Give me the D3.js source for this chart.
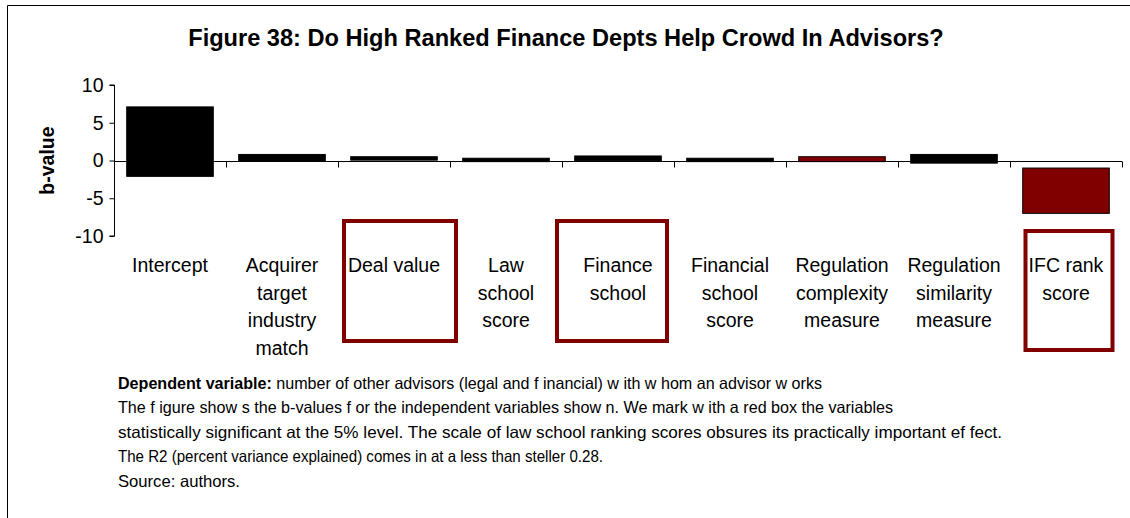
<!DOCTYPE html>
<html>
<head>
<meta charset="utf-8">
<script src="https://cdn.jsdelivr.net/npm/d3@7"></script>
<style>
  html, body { margin: 0; padding: 0; background: #fff; }
  svg { display: block; font-family: "Liberation Sans", Arial, sans-serif; }
</style>
</head>
<body>
<svg id="chart" width="1130" height="518"></svg>
<script>
// Regression coefficients: each bar spans a low..high range of b-values
const categories = [
  "Intercept",
  "Acquirer target industry match",
  "Deal value",
  "Law school score",
  "Finance school",
  "Financial school score",
  "Regulation complexity measure",
  "Regulation similarity measure",
  "IFC rank score"
];
const labelLines = [
  ["Intercept"],
  ["Acquirer", "target", "industry", "match"],
  ["Deal value"],
  ["Law", "school", "score"],
  ["Finance", "school"],
  ["Financial", "school", "score"],
  ["Regulation", "complexity", "measure"],
  ["Regulation", "similarity", "measure"],
  ["IFC rank", "score"]
];
const lowValues  = [-2.1, 0.0, 0.05, -0.15, -0.05, -0.15, -0.15, -0.35, -7.0];
const highValues = [ 7.1, 0.8, 0.5,   0.3,   0.6,   0.3,   0.5,   0.8,  -1.0];
const highlighted = ["Regulation complexity measure", "IFC rank score"];
const significant = ["Deal value", "Finance school", "IFC rank score"];
const yTicks = [10, 5, 0, -5, -10];

const titleText = "Figure 38: Do High Ranked Finance Depts Help Crowd In Advisors?";
const notes = [
  [{t: "Dependent variable:", b: true}, {t: " number of other advisors (legal and f inancial) w ith w hom an advisor w orks"}],
  [{t: "The f igure show s the b-values f or the independent variables show n. We mark w ith a red box the variables"}],
  [{t: "statistically significant at the 5% level. The scale of law  school ranking scores obsures its practically important ef fect."}],
  [{t: "The R2 (percent variance explained) comes in at a less than steller 0.28."}],
  [{t: "Source: authors."}]
];

const DARK_RED = "#800000";
const svg = d3.select("#chart");

// outer frame: top and left edges
svg.append("line").attr("x1", 7.5).attr("x2", 1130).attr("y1", 5.5).attr("y2", 5.5)
  .attr("stroke", "#000").attr("stroke-width", 1);
svg.append("line").attr("x1", 7.5).attr("x2", 7.5).attr("y1", 5.5).attr("y2", 518)
  .attr("stroke", "#000").attr("stroke-width", 1);

svg.append("text")
  .attr("x", 566).attr("y", 46)
  .attr("text-anchor", "middle")
  .attr("font-weight", "bold")
  .attr("font-size", 23.6)
  .text(titleText);

const x = d3.scaleBand().domain(categories).range([114, 1122])
  .paddingInner(0.227).paddingOuter(0.1135);
const y = d3.scaleLinear().domain([-10, 10]).range([236, 85]);

// value axis
const yAxis = svg.append("g").attr("transform", "translate(114.5,0)")
  .call(d3.axisLeft(y).tickValues(yTicks).tickSize(5).tickPadding(6).tickFormat(d => String(d)));
yAxis.selectAll("text").attr("font-size", 19.5).attr("fill", "#000").attr("font-family", "Liberation Sans, Arial, sans-serif");
yAxis.selectAll("line, path").attr("stroke", "#000");
yAxis.select(".domain").attr("d", `M-5,${y(10)}H0V${y(-10)}H-5`);

svg.append("text")
  .attr("transform", `translate(54,${y(0)}) rotate(-90)`)
  .attr("text-anchor", "middle")
  .attr("font-weight", "bold")
  .attr("font-size", 19.5)
  .text("b-value");

// category axis along zero, with ticks between bands
const y0 = Math.round(y(0)) + 0.5;
svg.append("line").attr("x1", 114).attr("x2", 1122).attr("y1", y0).attr("y2", y0)
  .attr("stroke", "#000");
const boundaries = categories.map((c, i) => x(c) - x.step() * x.paddingInner() / 2).concat([1122]);
svg.append("g").selectAll("line").data(boundaries.slice(1)).join("line")
  .attr("x1", d => Math.round(d) + 0.5).attr("x2", d => Math.round(d) + 0.5)
  .attr("y1", y0).attr("y2", y0 + 6).attr("stroke", "#000");

// bars
svg.append("g").selectAll("rect").data(categories).join("rect")
  .attr("x", d => x(d))
  .attr("width", x.bandwidth())
  .attr("y", (d, i) => y(highValues[i]))
  .attr("height", (d, i) => Math.max(1, y(lowValues[i]) - y(highValues[i])))
  .attr("fill", d => highlighted.includes(d) ? DARK_RED : "#000")
  .attr("stroke", "#000")
  .attr("stroke-width", 1);

// category labels
const lbl = svg.append("g").selectAll("text").data(categories).join("text")
  .attr("text-anchor", "middle")
  .attr("font-size", 19.5)
  .attr("fill", "#000");
lbl.each(function(d, i) {
  const cx = x(d) + x.bandwidth() / 2;
  d3.select(this).selectAll("tspan").data(labelLines[i]).join("tspan")
    .attr("x", cx)
    .attr("y", (l, j) => 272 + j * 27.7)
    .text(l => l);
});

// red boxes marking significant variables
const boxGeom = {
  "Deal value":     {dx: 6,  w: 112, top: 221, h: 120},
  "Finance school": {dx: -6, w: 110, top: 221, h: 120},
  "IFC rank score": {dx: 3,  w: 87,  top: 231, h: 119}
};
svg.append("g").selectAll("rect").data(significant).join("rect")
  .attr("x", d => x(d) + x.bandwidth() / 2 + boxGeom[d].dx - boxGeom[d].w / 2)
  .attr("y", d => boxGeom[d].top)
  .attr("width", d => boxGeom[d].w)
  .attr("height", d => boxGeom[d].h)
  .attr("fill", "none")
  .attr("stroke", DARK_RED)
  .attr("stroke-width", 4);

// notes below the chart, set in a narrow face
const noteWidths = [704, 775, 884, 485, 122];
const noteG = svg.append("g").attr("font-size", 16.5);
notes.forEach((parts, i) => {
  const t = noteG.append("text").attr("x", 118).attr("y", 389 + i * 24.4)
    .attr("textLength", noteWidths[i]).attr("lengthAdjust", "spacingAndGlyphs");
  parts.forEach(p => t.append("tspan").attr("font-weight", p.b ? "bold" : null).text(p.t));
});
</script>
</body>
</html>
